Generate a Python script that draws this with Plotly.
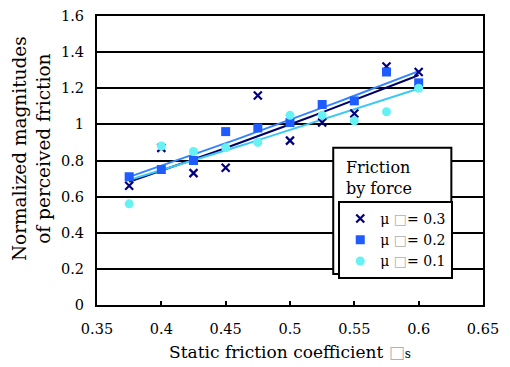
import numpy as np
import plotly.graph_objects as go

# Data
mu_s = [0.375, 0.4, 0.425, 0.45, 0.475, 0.5, 0.525, 0.55, 0.575, 0.6]
mag_03 = [0.66, 0.87, 0.73, 0.76, 1.16, 0.91, 1.01, 1.06, 1.32, 1.29]
mag_02 = [0.71, 0.75, 0.80, 0.96, 0.98, 1.01, 1.11, 1.13, 1.29, 1.23]
mag_01 = [0.56, 0.88, 0.85, 0.87, 0.90, 1.05, 1.05, 1.02, 1.07, 1.20]

labels = ["μ <span style='color:#b0b0b0'>□</span>= 0.3",
          "μ <span style='color:#b0b0b0'>□</span>= 0.2",
          "μ <span style='color:#b0b0b0'>□</span>= 0.1"]
yticks = [0, 0.2, 0.4, 0.6, 0.8, 1.0, 1.2, 1.4, 1.6]
xticks = [0.35, 0.4, 0.45, 0.5, 0.55, 0.6, 0.65]

font_family = "DejaVu Serif"

series = [
    (mag_03, labels[0], dict(symbol="x-thin", size=8, color="#000080",
                             line=dict(width=2.2, color="#000080")), "#000066"),
    (mag_02, labels[1], dict(symbol="square", size=9, color="#1f5cff"), "#3384ff"),
    (mag_01, labels[2], dict(symbol="circle", size=9, color="#66f2f2"), "#3cc8f5"),
]

fig = go.Figure()

x = np.array(mu_s)
xx = np.linspace(min(mu_s), max(mu_s), 60)
# trend lines (power fits)
for ys, name, mk, lc in series:
    b, a = np.polyfit(np.log(x), np.log(np.array(ys)), 1)
    fig.add_trace(go.Scatter(x=xx, y=np.exp(a) * xx ** b, mode="lines",
                             line=dict(color=lc, width=2), showlegend=False,
                             hoverinfo="skip"))

for ys, name, mk, lc in series:
    fig.add_trace(go.Scatter(x=mu_s, y=ys, mode="markers", name=name, marker=mk))

# outer legend box with its title
fig.add_shape(type="rect", xref="paper", yref="paper",
              x0=0.612, x1=0.918, y0=0.107, y1=0.544,
              fillcolor="white", line=dict(color="black", width=2), layer="above")
fig.add_annotation(xref="paper", yref="paper", x=0.64, y=0.515,
                   xanchor="left", yanchor="top", align="left", showarrow=False,
                   text="Friction<br>by force",
                   font=dict(family=font_family, size=16, color="black"))

# y-axis title
fig.add_annotation(xref="paper", yref="paper", x=-0.168, y=0.54,
                   xanchor="center", yanchor="middle", showarrow=False,
                   textangle=-90, align="center",
                   text="Normalized magnitudes<br>of perceived friction",
                   font=dict(family=font_family, size=18.5, color="black"))

fig.update_layout(
    width=510, height=367,
    margin=dict(l=97, r=27, t=8, b=61),
    paper_bgcolor="white", plot_bgcolor="white",
    font=dict(family=font_family, size=14.5, color="black"),
    showlegend=True,
    legend=dict(x=0.625, y=0.36, xanchor="left", yanchor="top",
                bordercolor="black", borderwidth=2, bgcolor="white",
                font=dict(family=font_family, size=14, color="black"),
                itemwidth=30, tracegroupgap=0),
    xaxis=dict(range=[0.35, 0.65], tickvals=xticks,
               ticktext=[f"{v:g}" for v in xticks],
               showgrid=False, zeroline=False,
               showline=True, linecolor="black", linewidth=2, mirror=True,
               ticks="inside", ticklen=4, tickwidth=1.5, tickcolor="black",
               ticklabelstandoff=10,
               title=dict(text="Static friction coefficient <span style='color:#b0b0b0'>□</span><span style='font-size:12px'>s</span>",
                          font=dict(family=font_family, size=17), standoff=10)),
    yaxis=dict(range=[0, 1.6], tickvals=yticks,
               ticktext=[f"{v:g}" for v in yticks],
               showgrid=True, gridcolor="black", gridwidth=1.8, zeroline=False,
               showline=True, linecolor="black", linewidth=2, mirror=True,
               ticks="", ticklabelstandoff=8),
)

fig.write_html("out.html")
